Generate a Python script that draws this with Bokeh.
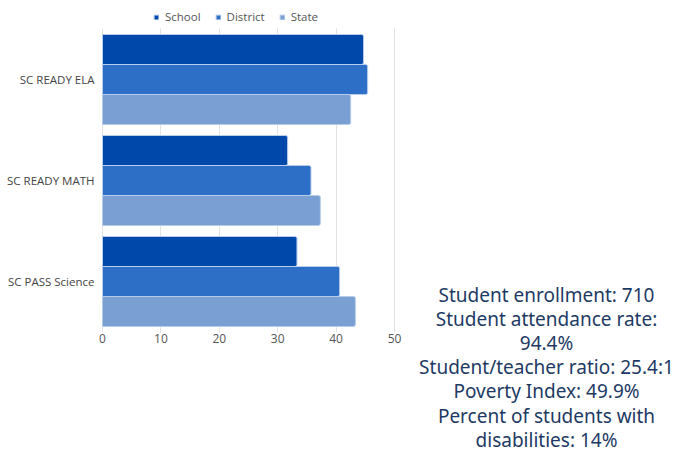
from bokeh.plotting import figure
from bokeh.models import (ColumnDataSource, Range1d, Legend, LegendItem, FixedTicker, Label)
from bokeh.embed import file_html
from bokeh.resources import INLINE

categories = ["SC READY ELA", "SC READY MATH", "SC PASS Science"]
school = [44.7, 31.7, 33.3]
district = [45.4, 35.7, 40.6]
state = [42.5, 37.3, 43.3]
series_names = ["School", "District", "State"]
series_colors = ["#0049AB", "#2D6FC6", "#7A9FD3"]
x_ticks = [0, 10, 20, 30, 40, 50]

info_lines = [
    "Student enrollment: 710",
    "Student attendance rate:",
    "94.4%",
    "Student/teacher ratio: 25.4:1",
    "Poverty Index: 49.9%",
    "Percent of students with",
    "disabilities: 14%",
]

n = len(categories)
cat_pos = [n - 1 - i for i in range(n)]  # first category at top
src = ColumnDataSource(dict(pos=cat_pos, School=school, District=district, State=state))

# ---- layout constants (pixels) ----
W, H = 678, 454
LEFT = 95                 # frame left inside canvas
zero_px = 102             # where x = 0 sits
px_x = 292 / 50           # px per x unit
px_y = 101                # px per category
top_cat_px = 79           # canvas top to first category centre
x_start = -(zero_px - LEFT) / px_x
x_end = x_start + (W - LEFT) / px_x
y_top = (n - 1) + top_cat_px / px_y
y_bot = (n - 1) - (H - top_cat_px) / px_y
grid_top = (n - 1) + (top_cat_px - 28) / px_y

p = figure(width=W, height=H, output_backend="svg", toolbar_location=None,
           y_range=Range1d(y_bot, y_top), x_range=Range1d(x_start, x_end),
           min_border_left=LEFT, min_border_right=0, min_border_top=0, min_border_bottom=0)
p.outline_line_color = None
p.background_fill_color = "white"

step = 0.297
offsets = [step, 0.0, -step]
items = []
for name, color, off in zip(series_names, series_colors, offsets):
    src.data["y_" + name] = [c + off for c in cat_pos]
    r = p.hbar(y="y_" + name, right=name, left=0, height=step,
               source=src, fill_color=color, line_color="#B8CDEB", line_width=1,
               border_radius=[0, 2, 2, 0])
    items.append(LegendItem(label=name, renderers=[r]))

legend = Legend(items=items, orientation="horizontal", location=(156 - 3 - LEFT, H - 24),
                label_text_font="Open Sans", label_text_font_size="11.5px",
                label_text_color="#555555", glyph_width=6, glyph_height=6,
                label_height=12, label_standoff=6, spacing=14, padding=3, margin=0,
                border_line_color=None, background_fill_alpha=0)
p.add_layout(legend, "center")

# x axis drawn at the bottom of the category block
p.xaxis.fixed_location = -0.5
p.xaxis.bounds = (0, 50)
p.xaxis.ticker = FixedTicker(ticks=x_ticks)
p.xaxis.axis_line_color = None
p.xaxis.major_tick_line_color = None
p.xaxis.minor_tick_line_color = None
p.xaxis.major_tick_out = 0
p.xaxis.major_tick_in = 0
p.xaxis.major_label_text_font = "Open Sans"
p.xaxis.major_label_text_font_size = "12px"
p.xaxis.major_label_text_color = "#555555"
p.xaxis.major_label_standoff = 2

p.yaxis.ticker = FixedTicker(ticks=cat_pos)
p.yaxis.major_label_overrides = {pos: c for pos, c in zip(cat_pos, categories)}
p.yaxis.axis_line_color = None
p.yaxis.major_tick_line_color = None
p.yaxis.minor_tick_line_color = None
p.yaxis.major_tick_out = 0
p.yaxis.major_tick_in = 0
p.yaxis.major_label_text_font = "Open Sans"
p.yaxis.major_label_text_font_size = "11.5px"
p.yaxis.major_label_text_color = "#444444"
p.yaxis.major_label_standoff = 1

p.ygrid.grid_line_color = None
if "cross_bounds" in p.xgrid[0].properties():
    p.xgrid.ticker = FixedTicker(ticks=x_ticks)
    p.xgrid.bounds = (0, 50)
    p.xgrid.cross_bounds = (-0.5, grid_top)
    p.xgrid.grid_line_color = "#E3E3E3"
else:
    p.xgrid.grid_line_color = None
    p.segment(x0=x_ticks, x1=x_ticks, y0=[-0.5] * len(x_ticks),
              y1=[grid_top] * len(x_ticks), line_color="#E3E3E3", line_width=1)

# info text, in screen px relative to the frame's bottom-left
text_cx = 546 - LEFT
first_line = 294          # from canvas top
line_h = 24.2
for i, line in enumerate(info_lines):
    p.add_layout(Label(x=text_cx, y=H - (first_line + i * line_h),
                       x_units="screen", y_units="screen",
                       text=line, text_align="center", text_baseline="middle",
                       text_font="Noto Sans", text_font_size="19px",
                       text_color="#1E3A64"))

open("out.html", "w").write(file_html(p, INLINE))
